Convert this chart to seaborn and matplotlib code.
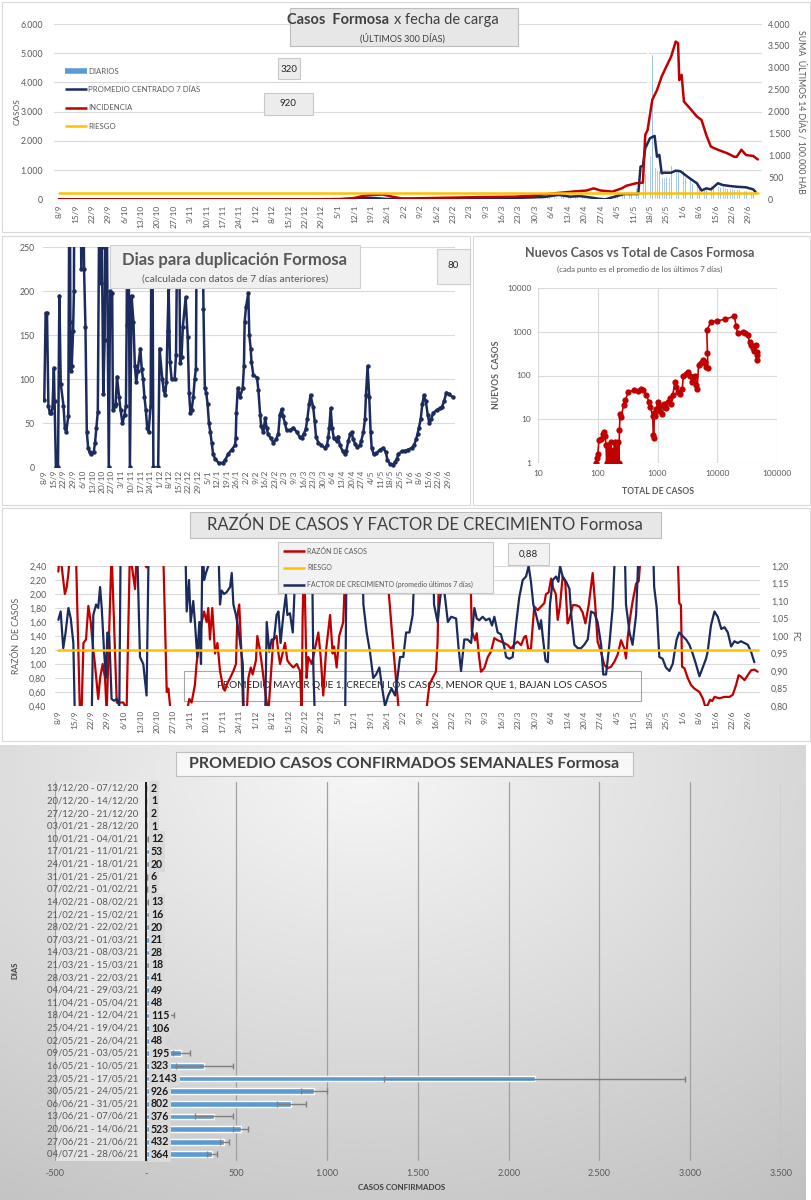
import matplotlib
matplotlib.use('Agg')
import matplotlib.pyplot as plt
import seaborn as sns
import pandas as pd
import numpy as np
from matplotlib.patches import Rectangle
from matplotlib.lines import Line2D
from matplotlib.ticker import FuncFormatter, FixedLocator

sns.set_theme(style='white')
plt.rcParams['font.family'] = ['Lato', 'DejaVu Sans']

NAVY = '#1b2b5e'
RED = '#c00000'
YEL = '#ffc000'
LBLUE = '#5b9bd5'
GRID = '#d9d9d9'
TXT = '#595959'

# ---------------- datos ----------------
fechas = ['8/9', '15/9', '22/9', '29/9', '6/10', '13/10', '20/10', '27/10', '3/11', '10/11',
          '17/11', '24/11', '1/12', '8/12', '15/12', '22/12', '29/12', '5/1', '12/1', '19/1',
          '26/1', '2/2', '9/2', '16/2', '23/2', '2/3', '9/3', '16/3', '23/3', '30/3',
          '6/4', '13/4', '20/4', '27/4', '4/5', '11/5', '18/5', '25/5', '1/6', '8/6',
          '15/6', '22/6', '29/6']

# casos diarios desde el dia 110 (27/12)
diarios_desde = 110
diarios = [0, 1, 0, 2, 1, 0, 3, 2, 5, 8,
           10, 15, 12, 20, 35, 50, 60, 45, 55, 70,
           40, 30, 25, 20, 15, 10, 8, 5, 6, 4,
           5, 6, 4, 8, 10, 12, 15, 20, 14, 18,
           15, 12, 20, 18, 22, 16, 19, 20, 25, 18,
           20, 22, 18, 25, 21, 20, 24, 26, 20, 22,
           28, 30, 25, 32, 28, 26, 30, 18, 20, 15,
           35, 40, 45, 38, 42, 48, 50, 44, 52, 46,
           40, 55, 60, 45, 50, 48, 42, 52, 49, 55,
           60, 48, 50, 45, 55, 62, 70, 80, 115, 150,
           120, 105, 95, 110, 200, 160, 140, 120, 100, 110,
           105, 98, 110, 100, 95, 90, 85, 50, 40, 48,
           55, 60, 70, 90, 120, 150, 180, 200, 220, 190,
           250, 230, 210, 240, 300, 350, 420, 500, 550, 600,
           900, 5620, 1500, 4970, 1100, 1050, 1000, 780, 760, 800,
           780, 1170, 1150, 1050, 1060, 1080, 1040, 770, 780, 760,
           560, 540, 550, 430, 420, 380, 370, 660, 500, 480,
           490, 470, 430, 440, 420, 380, 370, 380, 360, 370,
           350, 330, 320, 320, 310, 300, 250, 200]

prom_dias = [0, 110, 120, 125, 130, 135, 140, 150, 160, 170, 180, 190, 200, 207, 213, 218,
             222, 226, 230, 233, 237, 241, 245, 247, 248, 249, 250, 252, 254, 255, 256, 257,
             258, 261, 263, 265, 268, 270, 272, 274, 276, 278, 281, 283, 286, 289, 293, 296, 297]
prom_vals = [0, 0, 10, 20, 50, 40, 10, 10, 20, 30, 30, 40, 60, 80, 150, 90,
             110, 70, 20, 0, 90, 180, 180, 180, 1120, 1140, 1745, 2090, 2170, 1460, 1520, 890,
             910, 910, 980, 960, 775, 660, 550, 300, 375, 340, 550, 490, 455, 430, 410, 340, 260]

inc_dias = [0, 120, 126, 130, 134, 138, 142, 146, 150, 160, 170, 180, 195, 205, 210, 214,
            219, 225, 228, 231, 236, 240, 242, 246, 249, 250, 251, 253, 255, 257, 259, 261,
            263, 264, 264.5, 265.5, 266.5, 269, 272, 274, 276, 278, 281, 285, 288, 289, 291,
            293, 296, 298]
inc_vals = [0, 0, 30, 80, 100, 110, 60, 20, 20, 30, 40, 50, 60, 100, 130, 150,
            175, 200, 250, 200, 175, 250, 310, 365, 380, 1470, 1580, 2270, 2490, 2800, 3030, 3250,
            3600, 3560, 2720, 2840, 2230, 2080, 1890, 1810, 1470, 1200, 1130, 1050, 970, 970, 1130,
            1010, 990, 910]
riesgo_inc = 150

# dias para duplicacion (dia, valor); > 250 fuera de escala
duplicacion = [
    (0, 77), (1, 175), (2, 175), (3, 70), (4, 62), (5, 62), (6, 68), (7, 113), (7.5, 75), (8.5, 0),
    (10, 0), (11, 195), (12, 95), (14, 70), (15, 45), (16, 40), (17.5, 58), (18.5, 400), (19, 165),
    (19.5, 110), (20, 115), (21, 155), (21.6, 200), (22, 400), (26, 400), (27, 225), (28, 400),
    (29, 225), (30, 160), (31, 40), (32, 22), (33, 17), (34, 15), (36, 17), (37, 28), (38, 45),
    (39, 63), (40.5, 400), (41.5, 210), (42, 250), (43, 83), (44, 145), (45, 400), (47, 0),
    (48, 200), (49.5, 198), (50, 65), (51.5, 70), (52, 72), (53, 103), (54.5, 80), (55.6, 65),
    (57, 50), (58.5, 60), (59.5, 70), (60, 162), (61, 400), (62.4, 0), (63.6, 195), (65, 165),
    (66, 115), (67, 97), (68, 110), (70, 135), (71, 112), (72, 100), (73, 80), (74, 65), (75, 45),
    (76, 40), (77.5, 70), (78.5, 400), (79.5, 0), (83, 0), (84, 135), (86, 100), (87, 88),
    (88, 82), (89, 97), (89.8, 155), (90.6, 205), (91.6, 120), (92.8, 100), (95, 100), (96, 128),
    (97.7, 400), (99, 118), (100, 125), (101, 160), (103, 193), (104.5, 148), (105.5, 85),
    (106.5, 62), (107.4, 65), (108.6, 80), (109.6, 100), (110.5, 112), (111.5, 400), (114.7, 400),
    (116, 180), (117, 90), (118, 85), (119, 72), (120, 50), (121, 40), (122, 28), (123, 15),
    (124.4, 10), (127, 5), (130, 5), (131.7, 8), (134, 15), (136.5, 20), (139, 25), (139.5, 33),
    (140, 62), (141, 90), (142.6, 80), (144.6, 90), (145.5, 115), (146, 165), (147, 182),
    (148.7, 198), (149.4, 150), (150.4, 135), (151, 120), (152.3, 105), (155, 102), (156, 88),
    (157.3, 60), (158, 47), (159.6, 40), (161, 56), (162, 45), (163, 38), (165, 33), (167, 28),
    (169, 32), (170.5, 38), (171.7, 60), (173, 66), (174, 58), (175.4, 50), (176.6, 42), (179, 42),
    (181.5, 45), (184, 40), (186, 35), (187.5, 33), (189, 38), (190.5, 43), (191.7, 55), (193, 72),
    (194, 82), (196, 68), (197, 53), (198, 35), (199.7, 28), (202, 25), (204.6, 22), (206, 25),
    (207, 35), (207.7, 45), (208.7, 67), (209.7, 45), (211, 33), (213, 30), (214, 35), (215.5, 25),
    (217.5, 18), (219, 15), (220, 18), (221.6, 30), (223, 38), (224, 40), (225, 32), (226.4, 27),
    (228, 23), (230, 25), (231, 30), (232.5, 40), (233.7, 55), (234.4, 82), (235.6, 115),
    (236.8, 80), (237.8, 40), (238.6, 22), (240, 15), (242, 16), (244.6, 20), (247, 22), (249, 17),
    (250, 8), (252, 4), (254, 3), (255.6, 6), (257, 10), (258, 15), (260.4, 18), (263, 19),
    (265, 20), (267.7, 22), (269.4, 25), (271, 32), (272, 38), (273, 45), (274.3, 55), (275.5, 72),
    (276.7, 82), (278, 75), (279.4, 60), (280.6, 50), (282, 55), (283.5, 62), (286, 65), (288, 67),
    (289.6, 68), (291.3, 75), (293, 85), (295, 83), (297.6, 80)]

# nuevos casos vs total (total, nuevos)
nuevos_vs_total = [
    (94, 1), (97, 1.3), (100, 1.6), (104, 3.3), (112, 3.5), (120, 4.5), (126, 5), (132, 4.2),
    (137, 2.5), (140, 1), (145, 2.5), (150, 1), (155, 2), (160, 1), (165, 3), (170, 1), (180, 2),
    (185, 1), (190, 3), (200, 1.2), (205, 2.5), (210, 1), (220, 3), (225, 1), (230, 5.5), (235, 13),
    (245, 11), (270, 21), (290, 28), (325, 42), (400, 46), (470, 45), (520, 50), (580, 46),
    (650, 35), (720, 25), (760, 19), (830, 12), (850, 4.3), (870, 3.6), (880, 14), (920, 12),
    (960, 17), (1000, 25), (1050, 15), (1100, 20), (1200, 13), (1300, 22), (1400, 18), (1500, 25),
    (1600, 30), (1700, 22), (1800, 35), (1950, 70), (2050, 55), (2200, 42), (2400, 38), (2600, 48),
    (2700, 95), (3000, 110), (3300, 120), (3500, 100), (3800, 70), (4000, 90), (4300, 100),
    (4500, 60), (4600, 48), (4900, 170), (5300, 190), (5800, 225), (6200, 200), (6500, 160),
    (7000, 150), (6900, 320), (6700, 1100), (7900, 1700), (10000, 1800), (13700, 1950),
    (19500, 2300), (20800, 1400), (22000, 920), (26800, 1000), (29000, 950), (32500, 840),
    (35000, 600), (37000, 500), (39500, 420), (42000, 360), (45000, 500), (46000, 350),
    (46500, 290), (47000, 225)]

# razon de casos (dia, valor); fuera de escala: 2.6 arriba, 0.3 abajo
razon = [
    (0, 2.32), (0.7, 2.6), (2.8, 2.0), (3.6, 2.1), (4.3, 2.3), (5, 2.6), (7.5, 2.6), (9.2, 0.3),
    (9.9, 0.3), (10.7, 1.30), (11.8, 1.35), (12.8, 1.83), (13.8, 1.60), (14.9, 1.20), (15.6, 1.0),
    (17, 0.5), (17.8, 0.8), (18.9, 1.0), (19.9, 0.8), (20.6, 0.3), (22.7, 2.6), (24.9, 0.45),
    (27.7, 0.45), (29.1, 0.35), (30.5, 2.6), (32.7, 2.07), (33.4, 2.6), (37.6, 2.38), (38.5, 2.6),
    (44.7, 2.6), (46.2, 0.6), (46.9, 0.65), (47.9, 0.3), (54.7, 0.3), (55.8, 0.5), (56.8, 0.45),
    (58.2, 0.7), (58.9, 1.0), (61.1, 1.6), (62.1, 1.75), (63.2, 1.6), (63.9, 1.8), (64.6, 1.35),
    (65.6, 1.8), (66.8, 1.15), (67.8, 1.3), (68.9, 0.9), (70.3, 0.65), (71, 0.62), (71.7, 0.7),
    (73.2, 0.8), (74.6, 0.9), (75.7, 1.0), (76.3, 1.7), (77.1, 1.85), (78.1, 1.1), (78.8, 0.3),
    (80.3, 0.3), (81, 0.8), (82, 0.95), (82.8, 0.85), (84.2, 1.05), (84.8, 1.4), (85.9, 1.2),
    (86.9, 0.95), (87.8, 0.7), (88.8, 0.45), (89.5, 0.3), (91.6, 1.35), (93, 1.4), (93.8, 1.15),
    (94.5, 1.0), (96.6, 1.3), (97.6, 1.05), (98.7, 1.0), (100.1, 0.95), (101.6, 1.0), (103, 0.9),
    (103.7, 0.3), (104.1, 1.65), (104.7, 2.6), (105.8, 0.8), (106.5, 1.1), (108, 1.0),
    (110.8, 1.45), (111.8, 1.1), (112.9, 0.55), (114.1, 1.2), (115.8, 1.7), (116.9, 1.15),
    (117.5, 1.25), (118.6, 0.95), (119.7, 1.4), (121.4, 1.6), (122.6, 2.6), (139.9, 2.6),
    (140.6, 2.1), (142.8, 1.2), (144.9, 0.4), (145.6, 0.3), (156.7, 0.3), (158.1, 0.70),
    (159.5, 0.80), (160.9, 0.89), (161.6, 1.3), (162.4, 2.6), (175.4, 2.6), (176.2, 1.47),
    (177.6, 1.34), (178.3, 1.44), (179.2, 1.13), (180.1, 0.89), (181.5, 0.94), (183, 1.1),
    (184.4, 1.18), (185.8, 1.37), (187.2, 1.34), (188.6, 1.32), (190, 1.3), (191.5, 1.27),
    (192.9, 1.22), (194.3, 1.28), (195.7, 1.32), (197.2, 1.27), (198.6, 1.39), (199.3, 1.4),
    (200.3, 1.2), (201.4, 1.22), (202.8, 1.82), (204.3, 1.77), (205.7, 1.82), (207.1, 1.87),
    (207.8, 2.0), (208.9, 2.02), (210, 2.22), (210.9, 2.08), (212, 2.0), (212.8, 1.63),
    (213.8, 1.84), (214.9, 2.25), (216, 2.18), (217, 1.58), (217.7, 1.63), (219.2, 1.84),
    (220.6, 1.84), (222, 1.82), (223.4, 1.74), (224.6, 1.58), (226, 1.84), (227.7, 2.3),
    (228.8, 1.84), (229.8, 1.32), (231.2, 1.18), (232.6, 0.99), (234, 0.94), (235.5, 0.96),
    (236.9, 1.03), (238.3, 1.13), (239.8, 1.34), (241.2, 1.22), (241.9, 1.08), (242.6, 1.37),
    (243.6, 1.65), (244.7, 1.89), (246.2, 2.15), (247.3, 2.18), (248.3, 2.6), (263.9, 2.6),
    (264.6, 1.87), (265.3, 1.84), (265.8, 0.96), (266.8, 0.94), (268.2, 0.8), (269.6, 0.7),
    (271, 0.65), (273.2, 0.6), (274.6, 0.51), (275.6, 0.40), (276.7, 0.41), (277.7, 0.49),
    (278.6, 0.47), (279.6, 0.53), (281.7, 0.51), (283.8, 0.53), (286, 0.53), (287.4, 0.56),
    (288.8, 0.7), (289.9, 0.84), (290.9, 0.82), (292.4, 0.77), (293.8, 0.84), (295.2, 0.91),
    (296.6, 0.92), (298, 0.89)]

# factor de crecimiento (dia, valor); fuera de escala: 1.3 arriba, 0.75 abajo
factor = [
    (0, 1.046), (1, 1.07), (2.1, 0.965), (3.1, 1.01), (4.3, 1.08), (5.3, 1.05), (6.4, 0.98),
    (7.1, 0.75), (14.2, 0.75), (14.9, 1.06), (16.1, 1.09), (17, 1.08), (17.8, 1.14), (18.5, 1.08),
    (19.5, 0.955), (20.3, 0.88), (20.9, 1.01), (21.7, 1.0), (22.7, 0.82), (23.7, 0.815),
    (24.9, 0.82), (26, 0.80), (26.6, 1.3), (33.4, 1.3), (34.8, 0.94), (36.2, 0.92), (37.6, 0.83),
    (38.6, 1.3), (54, 1.3), (54.7, 1.07), (55.7, 1.16), (56.4, 1.04), (57.5, 1.10), (58.2, 1.04),
    (59.2, 0.94), (60.1, 1.04), (60.8, 0.92), (61.5, 1.3), (62.1, 1.16), (62.9, 1.18),
    (63.9, 1.2), (68.2, 1.25), (68.9, 1.09), (69.6, 1.13), (70.6, 1.12), (71.7, 1.125),
    (73.2, 1.14), (73.9, 1.18), (74.6, 1.09), (75.7, 1.06), (76.7, 1.02), (77.7, 0.97),
    (78.6, 0.92), (79.1, 0.75), (88.1, 0.75), (88.8, 1.04), (89.9, 0.955), (90.9, 0.99),
    (91.9, 0.99), (93, 1.06), (93.8, 1.07), (94.7, 0.98), (95.9, 1.06), (97, 1.12), (97.6, 1.06),
    (98.7, 1.065), (99.9, 1.01), (100.6, 1.12), (101.6, 1.3), (108, 1.3), (108.7, 0.90),
    (109.4, 0.75), (122.2, 0.75), (122.9, 1.3), (129.3, 1.3), (130, 1.09), (131.4, 1.01),
    (132.8, 0.955), (134.2, 0.88), (135.4, 0.89), (136.8, 0.91), (137.8, 0.86), (139.2, 0.80),
    (140.6, 0.83), (142, 0.85), (143.5, 0.83), (144.5, 0.88), (145.6, 0.94), (147, 0.94),
    (148.2, 1.01), (149.6, 1.01), (151, 1.06), (152.4, 1.3), (159.5, 1.3), (160.1, 1.09),
    (161.6, 1.04), (163.1, 1.13), (164.6, 1.12), (166, 1.04), (167.4, 1.055), (169.5, 1.05),
    (170.5, 0.97), (171.6, 0.90), (173, 0.99), (174.4, 0.99), (175.9, 0.98), (177.3, 1.08),
    (178.3, 1.05), (179.4, 1.045), (180.8, 1.055), (182.2, 1.045), (183.7, 1.05), (184.8, 1.03),
    (185.8, 1.055), (187.2, 1.01), (188.6, 1.005), (190, 0.97), (190.8, 0.94), (192.2, 0.935),
    (193.6, 0.94), (195, 1.03), (196.4, 1.11), (197.9, 1.16), (199.3, 1.17), (200.4, 1.20),
    (201.4, 1.155), (202.4, 1.09), (203.6, 1.06), (205, 1.02), (205.7, 1.045), (206.4, 1.0),
    (207.6, 0.93), (208.6, 0.925), (209.5, 1.09), (210.7, 1.16), (212.1, 1.17), (213.1, 1.155),
    (213.8, 1.20), (214.9, 1.17), (216.4, 1.155), (217.8, 1.135), (218.7, 1.05), (219.9, 0.975),
    (221.4, 0.965), (222.7, 0.965), (224.1, 0.975), (225.6, 0.99), (227, 1.07), (228.4, 1.065),
    (229.8, 1.04), (231.3, 0.975), (232.2, 0.89), (233.4, 0.89), (234.8, 0.975), (236.2, 1.08),
    (237.6, 1.3), (241.2, 1.3), (241.9, 1.09), (243.4, 1.01), (244.7, 0.975), (246.2, 1.06),
    (247.6, 1.3), (253.3, 1.3), (253.9, 1.14), (255, 1.08), (256.1, 0.94), (257.5, 0.935),
    (258.9, 0.91), (260.4, 0.90), (261.8, 0.92), (262.5, 0.95), (263.5, 0.99), (264.6, 1.01),
    (266, 1.0), (267.5, 0.99), (268.9, 0.975), (270.3, 0.95), (271.7, 0.92), (273.2, 0.885),
    (274.6, 0.91), (276, 0.935), (276.7, 0.955), (278.1, 1.03), (279.6, 1.07), (281, 1.055),
    (282.5, 1.02), (283.9, 1.025), (285.3, 1.01), (286.7, 0.97), (288.1, 0.985), (289.5, 0.98),
    (290.9, 0.985), (292.4, 0.98), (293.8, 0.975), (295.2, 0.955), (296.6, 0.925)]
riesgo_fc = 0.96

semanas = ['13/12/20 - 07/12/20', '20/12/20 - 14/12/20', '27/12/20 - 21/12/20', '03/01/21 - 28/12/20',
           '10/01/21 - 04/01/21', '17/01/21 - 11/01/21', '24/01/21 - 18/01/21', '31/01/21 - 25/01/21',
           '07/02/21 - 01/02/21', '14/02/21 - 08/02/21', '21/02/21 - 15/02/21', '28/02/21 - 22/02/21',
           '07/03/21 - 01/03/21', '14/03/21 - 08/03/21', '21/03/21 - 15/03/21', '28/03/21 - 22/03/21',
           '04/04/21 - 29/03/21', '11/04/21 - 05/04/21', '18/04/21 - 12/04/21', '25/04/21 - 19/04/21',
           '02/05/21 - 26/04/21', '09/05/21 - 03/05/21', '16/05/21 - 10/05/21', '23/05/21 - 17/05/21',
           '30/05/21 - 24/05/21', '06/06/21 - 31/05/21', '13/06/21 - 07/06/21', '20/06/21 - 14/06/21',
           '27/06/21 - 21/06/21', '04/07/21 - 28/06/21']
promedio_semanal = [2, 1, 2, 1, 12, 53, 20, 6, 5, 13, 16, 20, 21, 28, 18, 41, 49, 48, 115, 106,
                    48, 195, 323, 2143, 926, 802, 376, 523, 432, 364]
error_semanal = [0, 0, 0, 0, 0, 0, 0, 0, 0, 0, 0, 0, 0, 0, 0, 0, 0, 0, 41, 0,
                 0, 47, 158, 830, 72, 80, 104, 40, 24, 28]

# ---------------- figura ----------------
W, H = 812, 1200
fig = plt.figure(figsize=(W / 100, H / 100), dpi=100)


def add_ax(l, t, r, b):
    a = fig.add_axes([l / W, 1 - b / H, (r - l) / W, (b - t) / H])
    a.set_facecolor('none')
    for s in a.spines.values():
        s.set_visible(False)
    return a


def caja(l, t, r, b, fc='#ececec', ec='#c8c8c8', lw=0.8, z=2):
    fig.patches.append(Rectangle((l / W, 1 - b / H), (r - l) / W, (b - t) / H,
                                 transform=fig.transFigure, fc=fc, ec=ec, lw=lw, zorder=z))


def texto(x, y, s, **kw):
    kw.setdefault('color', TXT)
    kw.setdefault('ha', 'center')
    kw.setdefault('va', 'center')
    kw.setdefault('zorder', 6)
    return fig.text(x / W, 1 - y / H, s, **kw)


def linea_ley(x0, x1, y, color, lw):
    fig.add_artist(Line2D([x0 / W, x1 / W], [1 - y / H, 1 - y / H], transform=fig.transFigure,
                          color=color, lw=lw, solid_capstyle='butt', zorder=6))


miles = FuncFormatter(lambda v, p: f'{v:,.0f}'.replace(',', '.'))
coma2 = FuncFormatter(lambda v, p: f'{v:.2f}'.replace('.', ','))
tick_dias = np.arange(0, 7 * len(fechas), 7)

# marcos de paneles
caja(2, 2, 810, 232, fc='white', ec='#d9d9d9', z=-5)
caja(2, 236, 470, 505, fc='white', ec='#d9d9d9', z=-5)
caja(473, 236, 810, 505, fc='white', ec='#d9d9d9', z=-5)
caja(2, 508, 810, 741, fc='white', ec='#d9d9d9', z=-5)

# ---------- 1) casos diarios ----------
ax1 = add_ax(54.3, 24, 762.5, 199.3)
dias_bar = np.arange(diarios_desde, diarios_desde + len(diarios))
ax1.bar(dias_bar, diarios, width=0.75, color=LBLUE, zorder=2)
sns.lineplot(x=prom_dias, y=prom_vals, ax=ax1, color=NAVY, lw=1.8, estimator=None, sort=False, zorder=3)
ax1.set_xlim(-2, 300)
ax1.set_ylim(0, 6000)
ax1.set_yticks(np.arange(0, 6001, 1000))
ax1.yaxis.set_major_formatter(miles)
ax1.yaxis.grid(True, color=GRID, lw=0.8)
ax1.set_axisbelow(True)
ax1.set_xticks(tick_dias)
ax1.set_xticklabels(fechas)
ax1.tick_params(axis='x', labelrotation=90, labelsize=6, colors=TXT, length=2, pad=2)
ax1.tick_params(axis='y', labelsize=6.3, colors=TXT, length=0, pad=8)
ax1r = ax1.twinx()
ax1r.set_facecolor('none')
for s in ax1r.spines.values():
    s.set_visible(False)
sns.lineplot(x=inc_dias, y=inc_vals, ax=ax1r, color=RED, lw=1.8, estimator=None, sort=False)
ax1r.plot([0, 298], [riesgo_inc, riesgo_inc], color=YEL, lw=1.8)
ax1r.set_ylim(0, 4000)
ax1r.set_yticks(np.arange(0, 4001, 500))
ax1r.yaxis.set_major_formatter(miles)
ax1r.tick_params(axis='y', labelsize=6.3, colors=TXT, length=0, pad=4)
ax1.set_xlabel('')
ax1.set_ylabel('')
ax1r.set_ylabel('')
texto(17, 112, 'CASOS', rotation=90, fontsize=6)
texto(801, 112, 'SUMA  ÚLTIMOS 14 DÍAS / 100.000 HAB', rotation=270, fontsize=6.3)

caja(290, 8, 518, 46, fc='#e7e7e7', ec='#bdbdbd')
texto(389, 20, 'Casos  Formosa', fontsize=10.5, weight='bold', color='#404040', ha='right')
texto(394, 20, 'x fecha de carga', fontsize=10.5, color='#404040', ha='left')
texto(402, 38, '(ÚLTIMOS 300 DÍAS)', fontsize=6.5, color='#404040')
caja(278, 58, 300, 79, fc='#ececec', ec='#c8c8c8')
texto(289, 69, '320', fontsize=7, color='#262626')
caja(264, 93, 313, 115, fc='#ececec', ec='#c8c8c8')
texto(288, 104, '920', fontsize=7, color='#262626')

ley1 = [('DIARIOS', LBLUE, 4), ('PROMEDIO CENTRADO 7 DÍAS', NAVY, 1.8),
        ('INCIDENCIA', RED, 1.8), ('RIESGO', YEL, 1.8)]
for i, (lab, c, lw) in enumerate(ley1):
    yy = 71 + i * 18.4
    linea_ley(65, 87, yy, c, lw)
    texto(88, yy, lab, fontsize=5.6, ha='left')

# ---------- 2) dias para duplicacion ----------
ax2 = add_ax(42.9, 247.3, 454.6, 467.3)
dup = pd.DataFrame(duplicacion, columns=['dia', 'valor'])
sns.lineplot(data=dup, x='dia', y='valor', ax=ax2, color=NAVY, lw=1.8, marker='o',
             markersize=3.2, markeredgewidth=0, estimator=None, sort=False)
ax2.set_xlim(-1, 299)
ax2.set_ylim(0, 250)
ax2.set_yticks(np.arange(0, 251, 50))
ax2.yaxis.grid(True, color=GRID, lw=0.8)
ax2.set_axisbelow(True)
ax2.set_xticks(tick_dias)
ax2.set_xticklabels(fechas)
ax2.tick_params(axis='x', labelrotation=90, labelsize=6, colors=TXT, length=0, pad=2)
ax2.tick_params(axis='y', labelsize=6.3, colors=TXT, length=0, pad=6)
ax2.set_xlabel('')
ax2.set_ylabel('')
caja(110, 245, 360, 288, fc='#f0f0f0', ec='#cfcfcf')
texto(235, 260, 'Dias para duplicación Formosa', fontsize=12, weight='bold')
texto(235, 279, '(calculada con datos de 7 días anteriores)', fontsize=7.5)
caja(437, 249, 470, 284, fc='#f0f0f0', ec='#cfcfcf')
texto(453, 266, '80', fontsize=7, color='#262626')

# ---------- 3) nuevos vs total ----------
ax3 = add_ax(538.3, 288.3, 776.7, 462.7)
nvt = pd.DataFrame(nuevos_vs_total, columns=['total', 'nuevos'])
sns.lineplot(data=nvt, x='total', y='nuevos', ax=ax3, color=RED, lw=1.2, marker='o',
             markersize=4.5, markeredgewidth=0, estimator=None, sort=False)
ax3.set_xscale('log')
ax3.set_yscale('log')
ax3.set_xlim(10, 100000)
ax3.set_ylim(1, 10000)
ax3.xaxis.set_major_locator(FixedLocator([10, 100, 1000, 10000, 100000]))
ax3.yaxis.set_major_locator(FixedLocator([1, 10, 100, 1000, 10000]))
ax3.xaxis.set_minor_locator(FixedLocator([]))
ax3.yaxis.set_minor_locator(FixedLocator([]))
plain = FuncFormatter(lambda v, p: f'{v:.0f}')
ax3.xaxis.set_major_formatter(plain)
ax3.yaxis.set_major_formatter(plain)
ax3.grid(True, color=GRID, lw=0.8)
ax3.set_axisbelow(True)
ax3.tick_params(labelsize=6, colors=TXT, length=0, pad=5)
ax3.set_xlabel('')
ax3.set_ylabel('')
texto(640, 253, 'Nuevos Casos vs Total de Casos Formosa', fontsize=9, weight='bold')
texto(640, 269, '(cada punto es el promedio de los últimos 7 días)', fontsize=5.6)
texto(497, 375, 'NUEVOS  CASOS', rotation=90, fontsize=6.2, weight='bold')
texto(658, 491, 'TOTAL DE CASOS', fontsize=6.2, weight='bold')

# ---------- 4) razon de casos y factor ----------
ax4 = add_ax(54.8, 566, 760, 706)
raz = pd.DataFrame(razon, columns=['dia', 'valor'])
sns.lineplot(data=raz, x='dia', y='valor', ax=ax4, color=RED, lw=1.6, estimator=None, sort=False, zorder=3)
ax4.set_xlim(-1.5, 299)
ax4.set_ylim(0.4, 2.4)
ax4.set_yticks(np.arange(0.4, 2.41, 0.2))
ax4.yaxis.set_major_formatter(coma2)
ax4.yaxis.grid(True, color=GRID, lw=0.8)
ax4.set_axisbelow(True)
ax4.set_xticks(tick_dias)
ax4.set_xticklabels(fechas)
ax4.tick_params(axis='x', labelrotation=90, labelsize=6, colors=TXT, length=0, pad=3)
ax4.tick_params(axis='y', labelsize=6.3, colors=TXT, length=0, pad=6)
ax4.set_xlabel('')
ax4.set_ylabel('')
ax4r = ax4.twinx()
ax4r.set_facecolor('none')
for s in ax4r.spines.values():
    s.set_visible(False)
fc = pd.DataFrame(factor, columns=['dia', 'valor'])
sns.lineplot(data=fc, x='dia', y='valor', ax=ax4r, color=NAVY, lw=1.6, estimator=None, sort=False)
ax4r.plot([0, 298], [riesgo_fc, riesgo_fc], color=YEL, lw=1.8)
ax4r.set_ylim(0.8, 1.2)
ax4r.set_yticks(np.arange(0.8, 1.201, 0.05))
ax4r.yaxis.set_major_formatter(coma2)
ax4r.tick_params(axis='y', labelsize=6.3, colors=TXT, length=0, pad=8)
ax4r.set_ylabel('')
ax4.text(412 / W, 1 - 686 / H, 'PROMEDIO MAYOR QUE 1, CRECEN LOS CASOS, MENOR QUE 1, BAJAN LOS CASOS',
         transform=fig.transFigure, ha='center', va='center', fontsize=7.2, color='#262626', zorder=1,
         clip_on=False)
ax4.add_patch(Rectangle((184 / W, 1 - 701 / H), 457 / W, 30 / H, transform=fig.transFigure,
                        fc='none', ec='#a6a6a6', lw=0.8, zorder=1, clip_on=False))
texto(17, 636, 'RAZÓN  DE CASOS', rotation=90, fontsize=6.3)
texto(795, 636, 'FC', rotation=270, fontsize=6.3)
caja(190, 512, 661, 538, fc='#e7e7e7', ec='#bdbdbd')
texto(425, 525, 'RAZÓN DE CASOS Y FACTOR DE CRECIMIENTO Formosa', fontsize=12, color='#404040')
caja(278, 542, 493, 593, fc='#f2f2f2', ec='#c8c8c8')
ley4 = [('RAZÓN DE CASOS', RED), ('RIESGO', YEL),
        ('FACTOR DE CRECIMIENTO (promedio últimos 7 días)', NAVY)]
for i, (lab, c) in enumerate(ley4):
    yy = 551 + i * 16.8
    linea_ley(283, 305, yy, c, 1.8)
    texto(307, yy, lab, fontsize=5, ha='left')
caja(508, 543, 549, 565, fc='#f2f2f2', ec='#c8c8c8')
texto(528, 554, '0,88', fontsize=7, color='#262626')

# ---------- 5) promedio semanal ----------
bg = fig.add_axes([0, 0, 806 / W, 455 / H], zorder=-10)
yy_, xx_ = np.mgrid[0:1:200j, 0:1:200j]
d = np.sqrt(((xx_ - 0.45) * 1.1) ** 2 + ((yy_ - 0.05) * 0.9) ** 2)
bg.imshow(0.965 - 0.2 * d, cmap='gray', vmin=0, vmax=1, aspect='auto', extent=[0, 1, 0, 1],
          origin='upper', interpolation='bicubic')
bg.set_axis_off()

ax5 = add_ax(55, 782, 781, 1160.6)
ax5.axvspan(-500, 0, color='#efefef', alpha=0.7, zorder=0, lw=0)
sns.barplot(x=promedio_semanal, y=semanas, orient='h', color=LBLUE, ax=ax5, width=0.45,
            saturation=1, zorder=2)
ax5.errorbar(promedio_semanal, np.arange(len(semanas)), xerr=error_semanal, fmt='none',
             ecolor='#7f7f7f', elinewidth=1, capsize=2.2, capthick=1, zorder=3)
ax5.set_xlim(-500, 3500)
ax5.set_ylim(len(semanas) - 0.5, -0.5)
ax5.set_xticks(np.arange(-500, 3501, 500))
ax5.set_xticklabels(['-500', '-', '500', '1.000', '1.500', '2.000', '2.500', '3.000', '3.500'])
ax5.xaxis.grid(True, color='#a0a0a0', lw=0.9)
ax5.set_axisbelow(True)
ax5.axvline(0, color='#1a1a1a', lw=1.4, zorder=4)
ax5.tick_params(axis='x', labelsize=6.5, colors=TXT, length=0, pad=6)
ax5.tick_params(axis='y', length=0, labelleft=False)
ax5.set_xlabel('')
ax5.set_ylabel('')
for i, (lab, v) in enumerate(zip(semanas, promedio_semanal)):
    ax5.text(-42, i, lab, fontsize=6.8, color=TXT, va='center', ha='right', zorder=5)
    ax5.text(28, i, f'{v:,}'.replace(',', '.'), fontsize=7.6, weight='bold', color='#1a1a1a',
             va='center', ha='left', zorder=5,
             bbox=dict(boxstyle='square,pad=0.2', fc='#dadada', ec='none'))
caja(176, 752, 633, 776, fc='#f7f7f7', ec='#bfbfbf')
texto(404, 764, 'PROMEDIO CASOS CONFIRMADOS SEMANALES Formosa', fontsize=11.5, weight='bold',
      color='#404040')
texto(15, 970, 'DIAS', rotation=90, fontsize=5.5, weight='bold', color='#404040')
texto(402, 1187, 'CASOS CONFIRMADOS', fontsize=5.8, weight='bold', color='#404040')

fig.savefig('out.png', dpi=100)
